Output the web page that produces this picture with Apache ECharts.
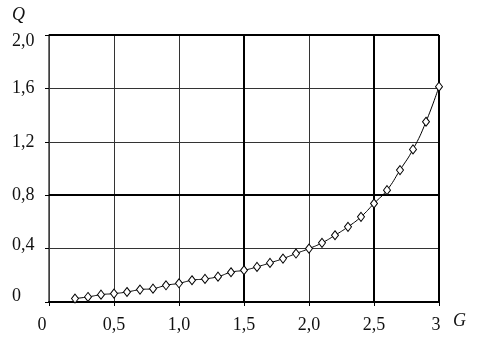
<!DOCTYPE html>
<html>
<head>
<meta charset="utf-8">
<script src="https://cdn.jsdelivr.net/npm/echarts@6/dist/echarts.min.js"></script>
<style>
  html, body { margin: 0; padding: 0; background: #fff; }
  #chart { width: 480px; height: 345px; }
</style>
</head>
<body>
<div id="chart"></div>
<script>
// G values (x) and Q values (y)
const gValues = [0.2, 0.3, 0.4, 0.5, 0.6, 0.7, 0.8, 0.9, 1.0,
  1.1, 1.2, 1.3, 1.4, 1.5, 1.6, 1.7, 1.8, 1.9, 2.0,
  2.1, 2.2, 2.3, 2.4, 2.5, 2.6, 2.7, 2.8, 2.9, 3.0];
const qValues = [0.026, 0.038, 0.055, 0.063, 0.075, 0.093, 0.10, 0.125, 0.14,
  0.163, 0.173, 0.19, 0.223, 0.238, 0.263, 0.293, 0.325, 0.363, 0.40,
  0.443, 0.50, 0.563, 0.638, 0.738, 0.838, 0.988, 1.143, 1.35, 1.613];

// tick labels
const xTickLabels = { "0": "0", "0.5": "0,5", "1": "1,0", "1.5": "1,5", "2": "2,0", "2.5": "2,5", "3": "3" };
const yTickLabels = { "0": "0", "0.4": "0,4", "0.8": "0,8", "1.2": "1,2", "1.6": "1,6", "2": "2,0" };

// heavier grid lines seen in the picture
const thickX = [1.5, 2.5, 3];
const thickY = [0.8, 2.0];

const serif = "'Liberation Serif', 'DejaVu Serif', serif";
const labelFont = { color: "#111", fontFamily: serif, fontSize: 18 };

// small label nudges (the original labels are not quite centred on their ticks)
const xLabelStyle = { "0": "l", "3": "m" };
const yLabelStyle = { "2": "d", "0.4": "u", "0": "uu" };

const chart = echarts.init(document.getElementById("chart"));

chart.setOption({
  animation: false,
  grid: { left: 49, right: 41, top: 35, bottom: 43, containLabel: false },
  xAxis: {
    type: "value",
    min: 0,
    max: 3,
    interval: 0.5,
    axisLine: { show: true, lineStyle: { color: "#000", width: 2 } },
    axisTick: { show: true, length: 4, lineStyle: { color: "#000" } },
    axisLabel: {
      margin: 14,
      ...labelFont,
      formatter: (v) => {
        const k = String(+v.toFixed(2));
        const t = xTickLabels[k] ?? "";
        return xLabelStyle[k] ? `{${xLabelStyle[k]}|${t}}` : t;
      },
      rich: {
        l: { ...labelFont, padding: [0, 14, 0, 0] },
        m: { ...labelFont, padding: [0, 6, 0, 0] },
      },
    },
    splitLine: { show: true, lineStyle: { color: "#333", width: 1 } },
  },
  yAxis: {
    type: "value",
    min: 0,
    max: 2,
    interval: 0.4,
    axisLine: { show: true, lineStyle: { color: "#444", width: 1.5 } },
    axisTick: { show: true, length: 4, lineStyle: { color: "#000" } },
    axisLabel: {
      margin: 37,
      align: "left",
      ...labelFont,
      formatter: (v) => {
        const k = String(+v.toFixed(2));
        const t = yTickLabels[k] ?? "";
        return yLabelStyle[k] ? `{${yLabelStyle[k]}|${t}}` : t;
      },
      rich: {
        d: { ...labelFont, padding: [12, 0, 0, 0] },
        u: { ...labelFont, padding: [0, 0, 6, 0] },
        uu: { ...labelFont, padding: [0, 0, 12, 0] },
      },
    },
    splitLine: { show: true, lineStyle: { color: "#333", width: 1 } },
  },
  graphic: [
    {
      type: "text",
      left: 12,
      top: 6,
      style: { text: "Q", font: "italic 18px " + serif, fill: "#111" },
    },
    {
      type: "text",
      left: 453,
      top: 312,
      style: { text: "G", font: "italic 18px " + serif, fill: "#111" },
    },
  ],
  series: [
    {
      type: "line",
      data: gValues.map((g, i) => [g, qValues[i]]),
      smooth: true,
      symbol: "diamond",
      symbolSize: [7, 9],
      showAllSymbol: true,
      lineStyle: { color: "#000", width: 1 },
      itemStyle: { color: "#fff", borderColor: "#000", borderWidth: 1 },
      z: 5,
      markLine: {
        silent: true,
        symbol: "none",
        label: { show: false },
        lineStyle: { color: "#000", width: 2, type: "solid" },
        data: [
          ...thickX.map((x) => ({ xAxis: x })),
          ...thickY.map((y) => ({ yAxis: y })),
        ],
      },
    },
  ],
});
</script>
</body>
</html>
